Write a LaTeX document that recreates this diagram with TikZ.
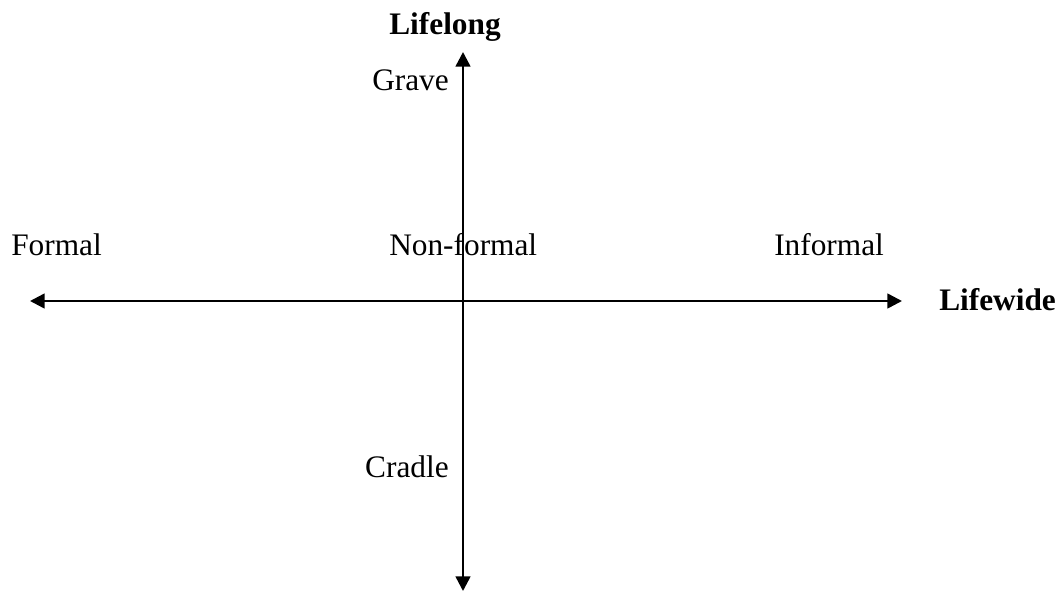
\documentclass[tikz,border=0pt]{standalone}
\usepackage{fontspec}
\setmainfont{Liberation Serif}
\usetikzlibrary{arrows.meta}
\begin{document}
\begin{tikzpicture}[x=0.75pt,y=-0.75pt,
  lbl/.style={inner sep=0pt,font=\fontsize{23.5}{28}\selectfont},
  blbl/.style={inner sep=0pt,font=\fontsize{23.5}{28}\selectfont\bfseries},
  axis/.style={line width=1.9pt,{Triangle[length=11pt,width=11pt]}-{Triangle[length=11pt,width=11pt]}}]
\useasboundingbox (0,0) rectangle (1062,592);
\coordinate (L) at (30,301);
\coordinate (R) at (902,301);
\coordinate (T) at (463,52);
\coordinate (B) at (463,591);
\draw[axis] (L) -- (R);
\draw[axis] (T) -- (B);
\node[blbl,anchor=base] (lifelong) at (445,35) {Lifelong};
\node[blbl,anchor=base west] (lifewide) at (939,310) {Lifewide};
\node[lbl,anchor=base west] (grave) at (372,90) {Grave};
\node[lbl,anchor=base east] (cradle) at (449,477) {Cradle};
\node[lbl,anchor=base west] (formal) at (11,255) {Formal};
\node[lbl,anchor=base west] (nonformal) at (389,255) {Non-formal};
\node[lbl,anchor=base west] (informal) at (774,255) {Informal};
\end{tikzpicture}
\end{document}
